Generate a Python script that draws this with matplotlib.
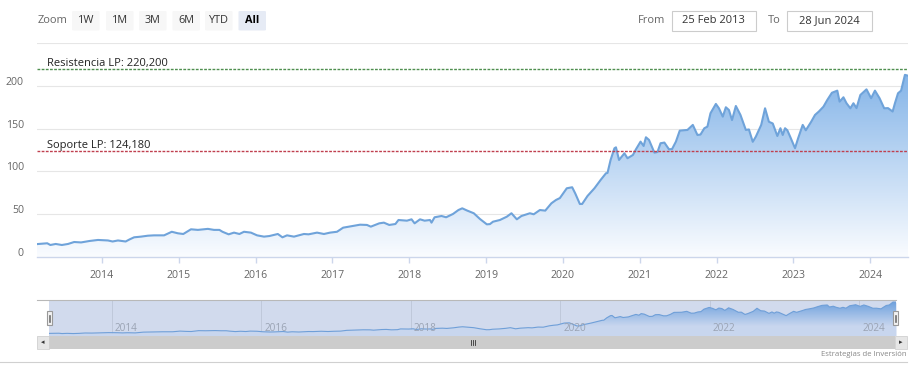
import numpy as np
import matplotlib
matplotlib.use("Agg")
import matplotlib.pyplot as plt
from matplotlib.patches import Rectangle, FancyBboxPatch
from matplotlib.lines import Line2D
from matplotlib.transforms import ScaledTranslation

plt.rcParams['font.family'] = ['Open Sans', 'DejaVu Sans']

# ---------------- data ----------------
dates = [2013.15, 2013.18, 2013.29, 2013.33, 2013.40, 2013.48, 2013.56, 2013.64, 2013.73, 2013.84,
         2013.95, 2014.08, 2014.14, 2014.21, 2014.31, 2014.36, 2014.42, 2014.51, 2014.60, 2014.68,
         2014.81, 2014.91, 2014.99, 2015.06, 2015.16, 2015.25, 2015.38, 2015.46, 2015.53, 2015.57,
         2015.65, 2015.72, 2015.79, 2015.85, 2015.94, 2016.02, 2016.11, 2016.18, 2016.29, 2016.35,
         2016.41, 2016.50, 2016.63, 2016.69, 2016.80, 2016.89, 2016.97, 2017.06, 2017.14, 2017.27,
         2017.36, 2017.45, 2017.50, 2017.61, 2017.67, 2017.74, 2017.82, 2017.86, 2017.97, 2018.03,
         2018.07, 2018.14, 2018.20, 2018.27, 2018.29, 2018.33, 2018.42, 2018.48, 2018.57, 2018.64,
         2018.69, 2018.75, 2018.84, 2018.92, 2019.01, 2019.05, 2019.09, 2019.18, 2019.27, 2019.33,
         2019.40, 2019.46, 2019.57, 2019.62, 2019.70, 2019.77, 2019.85, 2019.91, 2019.96, 2020.05,
         2020.12, 2020.16, 2020.22, 2020.25, 2020.32, 2020.41, 2020.49, 2020.56, 2020.58, 2020.62,
         2020.67, 2020.69, 2020.73, 2020.80, 2020.84, 2020.91, 2020.95, 2021.01, 2021.05, 2021.08,
         2021.12, 2021.19, 2021.23, 2021.27, 2021.32, 2021.38, 2021.42, 2021.47, 2021.52, 2021.62,
         2021.69, 2021.75, 2021.79, 2021.84, 2021.88, 2021.92, 2021.99, 2022.03, 2022.08, 2022.12,
         2022.16, 2022.20, 2022.25, 2022.31, 2022.38, 2022.42, 2022.47, 2022.51, 2022.58, 2022.63,
         2022.68, 2022.73, 2022.79, 2022.83, 2022.86, 2022.89, 2022.92, 2022.96, 2023.02, 2023.06,
         2023.12, 2023.16, 2023.23, 2023.28, 2023.33, 2023.39, 2023.44, 2023.50, 2023.57, 2023.60,
         2023.65, 2023.69, 2023.74, 2023.78, 2023.82, 2023.87, 2023.95, 2024.01, 2024.06, 2024.12,
         2024.18, 2024.23, 2024.29, 2024.32, 2024.36, 2024.40, 2024.45, 2024.49]
prices = [14.5, 14.7, 15.5, 13.5, 14.7, 13.5, 14.7, 17.0, 16.5, 18.2,
          19.4, 18.8, 17.6, 18.8, 17.6, 20.0, 22.5, 23.3, 24.4, 24.8,
          24.8, 29.0, 27.2, 26.4, 31.9, 31.2, 32.4, 31.2, 31.2, 29.0,
          26.0, 28.0, 26.4, 29.0, 28.0, 24.8, 23.3, 24.0, 26.4, 22.5,
          24.8, 23.3, 26.4, 26.0, 28.0, 26.4, 28.0, 29.0, 33.8, 35.8,
          37.3, 37.0, 35.0, 38.9, 39.7, 37.0, 38.1, 42.8, 42.0, 43.6,
          38.9, 43.6, 42.0, 42.8, 39.7, 46.0, 47.5, 46.0, 49.9, 54.5,
          56.5, 54.0, 50.7, 44.0, 37.7, 38.0, 40.8, 42.8, 46.7, 50.7,
          43.6, 47.5, 50.7, 49.5, 54.5, 53.8, 62.4, 66.3, 68.5, 80.0,
          81.2, 74.0, 61.6, 61.6, 71.0, 80.0, 89.7, 97.6, 98.0, 113.2,
          126.9, 128.0, 113.2, 121.0, 115.2, 119.0, 125.7, 134.7, 129.6, 139.8,
          136.7, 121.8, 122.5, 132.8, 133.6, 125.7, 126.0, 134.7, 147.6, 148.4,
          154.3, 142.5, 143.0, 150.4, 152.3, 168.0, 178.9, 173.8, 164.0, 175.0,
          171.8, 160.0, 176.5, 166.0, 148.4, 149.0, 134.5, 140.5, 154.3, 173.8,
          158.0, 156.0, 141.3, 150.4, 142.5, 150.4, 148.0, 139.8, 127.0, 138.6,
          154.3, 148.0, 158.0, 166.0, 170.0, 175.7, 183.6, 192.0, 194.5, 181.6,
          186.7, 179.7, 173.8, 179.7, 174.0, 189.4, 196.0, 185.6, 194.5, 185.6,
          173.8, 174.0, 170.0, 179.7, 191.4, 194.5, 213.0, 212.0]

resistance_level = 220.2
resistance_label = "Resistencia LP: 220,200"
support_level = 124.18
support_label = "Soporte LP: 124,180"

y_ticks = [0, 50, 100, 150, 200]
y_grid = [0, 50, 100, 150, 200, 250]
x_ticks = [2014, 2015, 2016, 2017, 2018, 2019, 2020, 2021, 2022, 2023, 2024]
nav_ticks = [2014, 2016, 2018, 2020, 2022, 2024]
zoom_buttons = ["1W", "1M", "3M", "6M", "YTD", "All"]
date_from = "25 Feb 2013"
date_to = "28 Jun 2024"
credit = "Estrategias de Inversión"

# ---------------- figure ----------------
W, H = 918, 378
fig = plt.figure(figsize=(W / 100, H / 100), dpi=100)
fig.patch.set_facecolor("white")


def frect(x0, y0, x1, y1):
    """pixel box (top-left origin) -> figure rect"""
    return [x0 / W, 1 - y1 / H, (x1 - x0) / W, (y1 - y0) / H]


def fx(x):
    return x / W


def fy(y):
    return 1 - y / H


x0d, x1d = dates[0], dates[-1]

# ---------------- main axes ----------------
ax = fig.add_axes(frect(36.5, 43.3, 908.0, 256.5))
ax.set_xlim(x0d, x1d)
ax.set_ylim(0, 250)
ax.set_facecolor("none")
for s in ["top", "right", "left"]:
    ax.spines[s].set_visible(False)
ax.spines["bottom"].set_color("#ccd6eb")
ax.spines["bottom"].set_linewidth(1)
for g in y_grid[1:]:
    ax.axhline(g, color="#e6e6e6", lw=0.8, zorder=0)

ax.set_yticks([])
off = ScaledTranslation(0, 3.5 / 100, fig.dpi_scale_trans)
for v in y_ticks:
    ax.text(-12.5 / (908 - 36.5), v, str(v), transform=ax.get_yaxis_transform() + off,
            ha="right", va="center", fontsize=7.6, color="#666666")

ax.set_xticks(x_ticks)
ax.set_xticklabels([str(t) for t in x_ticks])
ax.tick_params(axis="x", length=4, width=1, color="#ccd6eb", pad=5.5,
               labelsize=7.6, labelcolor="#666666")

# gradient fill under the curve
grad = np.linspace(0, 1, 256)[:, None]
top = np.array([112, 168, 228]) / 255
bot = np.array([250, 252, 255]) / 255
img = top[None, None, :] * (1 - grad[..., None]) + bot[None, None, :] * grad[..., None]
img = np.repeat(img, 2, axis=1)
poly = ax.fill_between(dates, prices, 0, color="none", lw=0)
im = ax.imshow(img, extent=[x0d, x1d, 0, 250], aspect="auto", origin="upper", zorder=1)
im.set_clip_path(poly.get_paths()[0], transform=ax.transData)
ax.plot(dates, prices, color="#6fa3da", lw=1.5, zorder=3, solid_joinstyle="round")

# support / resistance
ax.axhline(resistance_level, color="#4f8f4f", lw=1.0, ls=(0, (2, 1)), zorder=4)
ax.axhline(support_level, color="#c0404f", lw=1.0, ls=(0, (2, 1)), zorder=4)
lab_x = 10.5 / (908 - 36.5)
ax.text(lab_x, resistance_level, resistance_label, transform=ax.get_yaxis_transform(),
        ha="left", va="bottom", fontsize=8, color="#222222", zorder=5)
ax.text(lab_x, support_level, support_label, transform=ax.get_yaxis_transform(),
        ha="left", va="bottom", fontsize=8, color="#222222", zorder=5)

# ---------------- toolbar ----------------
fig.text(fx(38), fy(20.5), "Zoom", ha="left", va="center", fontsize=8, color="#666666")
btn_x = [72, 106, 139, 172.5, 205, 238.5]
btn_w = 27.5
for lbl, bx in zip(zoom_buttons, btn_x):
    sel = lbl == "All"
    fig.patches.append(FancyBboxPatch((fx(bx), fy(30.5)), btn_w / W, 19.5 / H,
                                      boxstyle="round,pad=0,rounding_size=0.002",
                                      transform=fig.transFigure,
                                      facecolor="#e6ebf5" if sel else "#f7f7f7",
                                      edgecolor="none"))
    fig.text(fx(bx + btn_w / 2), fy(20.5), lbl, ha="center", va="center", fontsize=7.8,
             color="#000000" if sel else "#333333", fontweight="bold" if sel else "normal")

fig.text(fx(665), fy(20.5), "From", ha="right", va="center", fontsize=8, color="#666666")
fig.patches.append(Rectangle((fx(671.5), fy(31)), 84.5 / W, 20 / H, transform=fig.transFigure,
                             facecolor="white", edgecolor="#cccccc", lw=0.8))
fig.text(fx(713.7), fy(20.5), date_from, ha="center", va="center", fontsize=8, color="#333333")
fig.text(fx(780.5), fy(20.5), "To", ha="right", va="center", fontsize=8, color="#666666")
fig.patches.append(Rectangle((fx(787.3), fy(31)), 85 / W, 20 / H, transform=fig.transFigure,
                             facecolor="white", edgecolor="#cccccc", lw=0.8))
fig.text(fx(829.8), fy(20.5), date_to, ha="center", va="center", fontsize=8, color="#333333")

# ---------------- navigator ----------------
nav = fig.add_axes(frect(48.5, 300, 896, 336))
nav.set_xlim(x0d, x1d)
nav.set_ylim(-2, 226)
nav.set_facecolor("#d1daed")
for s in nav.spines.values():
    s.set_visible(False)
nav.set_xticks([])
nav.set_yticks([])
for t in nav_ticks:
    nav.axvline(t, color="#bfc8da", lw=0.7, zorder=1)
    nav.text(t + 0.04, 0.2, str(t), transform=nav.get_xaxis_transform(), ha="left",
             va="center", fontsize=7.2, color="#9aa3b3", zorder=4)
ntop = np.array([100, 155, 220]) / 255
nbot = np.array([200, 214, 238]) / 255
nimg = ntop[None, None, :] * (1 - grad[..., None]) + nbot[None, None, :] * grad[..., None]
nimg = np.repeat(nimg, 2, axis=1)
npoly = nav.fill_between(dates, prices, -2, color="none", lw=0)
nim = nav.imshow(nimg, extent=[x0d, x1d, 60, 226], aspect="auto", origin="upper", zorder=2)
nim.set_clip_path(npoly.get_paths()[0], transform=nav.transData)
nav.fill_between(dates, prices, -2, color=nbot, lw=0, zorder=1.5)
nav.plot(dates, prices, color="#6f9fd8", lw=0.8, zorder=3)

# navigator outline
fig.add_artist(Line2D([fx(36.5), fx(896)], [fy(300), fy(300)], color="#b8b8b8", lw=0.8))
# handles
for hx in (47, 893):
    fig.patches.append(Rectangle((fx(hx), fy(324.5)), 5 / W, 13.5 / H, transform=fig.transFigure,
                                 facecolor="#f2f2f2", edgecolor="#999999", lw=0.8, zorder=5))
    for dx in (1.8, 3.2):
        fig.add_artist(Line2D([fx(hx + dx), fx(hx + dx)], [fy(314.5), fy(321.5)],
                              color="#555555", lw=0.5, zorder=6))

# scrollbar
fig.patches.append(Rectangle((fx(36.5), fy(349.3)), (907 - 36.5) / W, 13.5 / H,
                             transform=fig.transFigure, facecolor="#f2f2f2", edgecolor="none"))
fig.patches.append(Rectangle((fx(49.3), fy(349.3)), (895 - 49.3) / W, 13.5 / H,
                             transform=fig.transFigure, facecolor="#cccccc", edgecolor="none"))
for bx in (36.5, 895):
    fig.patches.append(Rectangle((fx(bx), fy(349.3)), 12.3 / W, 13.5 / H,
                                 transform=fig.transFigure, facecolor="#e6e6e6",
                                 edgecolor="#cccccc", lw=0.5))
fig.text(fx(42.7), fy(342.5), "◂", ha="center", va="center", fontsize=5, color="#333333")
fig.text(fx(901.2), fy(342.5), "▸", ha="center", va="center", fontsize=5, color="#333333")
for gx in (471, 473, 475):
    fig.add_artist(Line2D([fx(gx), fx(gx)], [fy(339.8), fy(345)], color="#333333", lw=0.6))

# footer
fig.add_artist(Line2D([0, fx(907)], [fy(361.8), fy(361.8)], color="#d0d0d0", lw=0.8))
fig.text(fx(907), fy(355), credit, ha="right", va="center", fontsize=5.6, color="#888888")

fig.savefig("out.png", dpi=100, facecolor="white")
